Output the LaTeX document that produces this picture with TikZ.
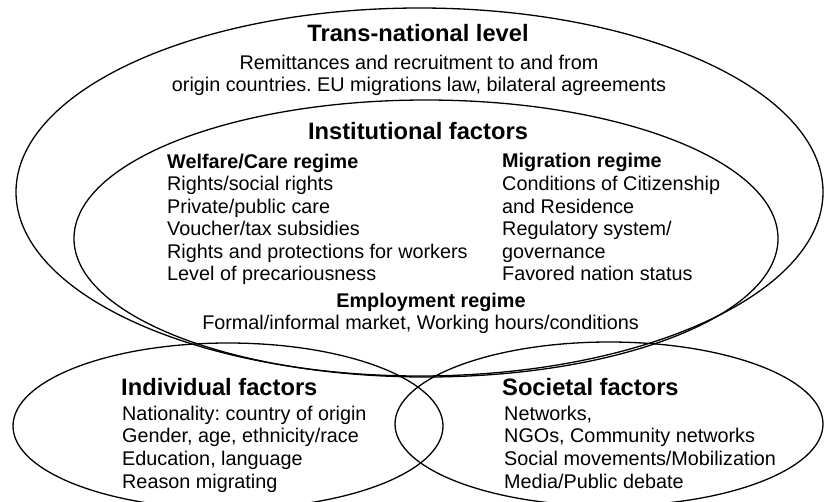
\documentclass[tikz,border=0pt]{standalone}
\usepackage{fontspec}
\setmainfont{Liberation Sans}
\frenchspacing
\begin{document}
\begin{tikzpicture}[x=1pt,y=-1pt,
  ring/.style={draw=black,line width=1.3pt},
  body/.style={inner sep=0pt,font=\fontsize{19.8}{22.6}\selectfont},
  head/.style={inner sep=0pt,font=\fontsize{19.8}{22.6}\selectfont\bfseries},
  title/.style={inner sep=0pt,font=\fontsize{23.7}{27}\selectfont\bfseries}]
\useasboundingbox (0,0) rectangle (825,501);
\clip (0,0) rectangle (825,501);

% the four fields
\draw[ring] (419.5,192) ellipse [x radius=403.5, y radius=184];
\draw[ring] (426,238.5) ellipse [x radius=352, y radius=138.5];
\draw[ring] (228,426) ellipse [x radius=215, y radius=83];
\draw[ring] (609,424) ellipse [x radius=214, y radius=82];

% trans-national level
\node[title,anchor=base] (trans) at (418,41) {Trans-national level};
\node[body,anchor=base] (trans1) at (419,69) {Remittances and recruitment to and from};
\node[body,anchor=base] (trans2) at (419,91) {origin countries. EU migrations law, bilateral agreements};

% institutional factors
\node[title,anchor=base] (inst) at (418,139) {Institutional factors};
\node[head,anchor=base west] (welfare) at (167,168) {Welfare/Care regime};
\foreach \t [count=\i from 0] in {Rights/social rights, Private/public care,
    Voucher/tax subsidies, Rights and protections for workers,
    Level of precariousness}
  \node[body,anchor=base west] (welfare\i) at (167,190.5+22.5*\i) {\t};
\node[head,anchor=base west] (migr) at (502,167) {Migration regime};
\foreach \t [count=\i from 0] in {Conditions of Citizenship, and Residence,
    Regulatory system/, governance, Favored nation status}
  \node[body,anchor=base west] (migr\i) at (502,190.5+22.5*\i) {\t};
\node[head,anchor=base] (empl) at (431,307) {Employment regime};
\node[body,anchor=base] (empl1) at (420.5,329) {Formal/informal market, Working hours/conditions};

% individual factors
\node[title,anchor=base west] (indiv) at (121,395) {Individual factors};
\foreach \t [count=\i from 0] in {Nationality: country of origin,
    {Gender, age, ethnicity/race}, {Education, language}, Reason migrating}
  \node[body,anchor=base west] (indiv\i) at (122,420+22.7*\i) {\t};

% societal factors
\node[title,anchor=base west] (soc) at (502,395) {Societal factors};
\foreach \t [count=\i from 0] in {{Networks,}, {NGOs, Community networks},
    Social movements/Mobilization, Media/Public debate}
  \node[body,anchor=base west] (soc\i) at (504,420+22.7*\i) {\t};
\end{tikzpicture}
\end{document}
